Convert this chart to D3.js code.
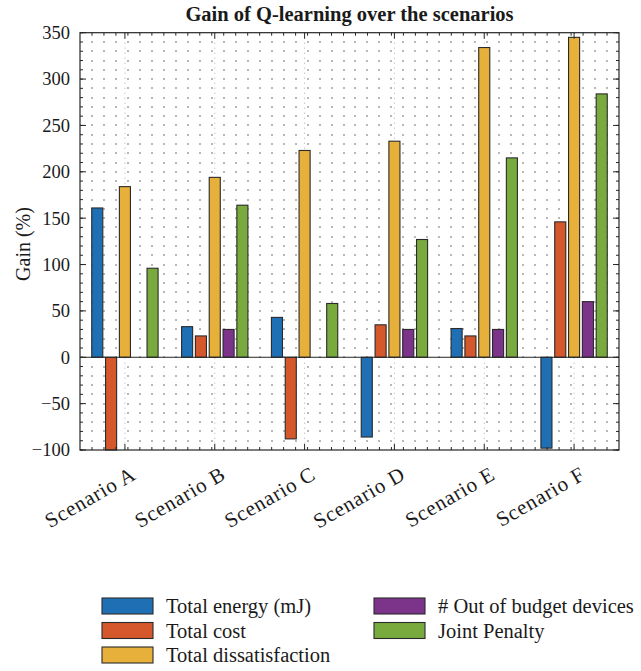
<!DOCTYPE html>
<html>
<head>
<meta charset="utf-8">
<script src="https://cdn.jsdelivr.net/npm/d3@7"></script>
<style>
  html, body { margin: 0; padding: 0; background: #fff; }
  svg { display: block; font-family: "Liberation Serif", "DejaVu Serif", serif; }
</style>
</head>
<body>
<svg id="chart" width="641" height="671"></svg>
<script>
// Gain (%) of Q-learning per scenario, one array per metric
const categories = ["Scenario A", "Scenario B", "Scenario C", "Scenario D", "Scenario E", "Scenario F"];
const totalEnergy = [161, 33, 43, -86, 31, -98];
const totalCost = [-100, 23, -88, 35, 23, 146];
const totalDissatisfaction = [184, 194, 223, 233, 334, 345];
const outOfBudgetDevices = [0, 30, 0, 30, 30, 60];
const jointPenalty = [96, 164, 58, 127, 215, 284];

const seriesNames = ["Total energy (mJ)", "Total cost", "Total dissatisfaction", "# Out of budget devices", "Joint Penalty"];
const seriesColors = ["#1f6fb4", "#d4582b", "#e7b03a", "#7c348a", "#79aa3e"];
const yTicks = [-100, -50, 0, 50, 100, 150, 200, 250, 300, 350];
const title = "Gain of Q-learning over the scenarios";
const yLabel = "Gain (%)";

const seriesValues = [totalEnergy, totalCost, totalDissatisfaction, outOfBudgetDevices, jointPenalty];
const rows = categories.map((c, i) => ({
  category: c,
  pos: i + 1,
  values: seriesNames.map((s, j) => ({ series: s, value: seriesValues[j][i], color: seriesColors[j] }))
}));

const svg = d3.select("#chart");
const plot = { left: 80, right: 619, top: 32.7, bottom: 450 };
const axisColor = "#262626";

const x = d3.scaleLinear().domain([0.5, categories.length + 0.5]).range([plot.left, plot.right]);
const y = d3.scaleLinear().domain([-100, 350]).range([plot.bottom, plot.top]);

// grouped bars: 5 bars sharing a group width of 5/6.5 category units
const groupWidth = 5 / 6.5;
const inner = d3.scaleBand()
  .domain(seriesNames)
  .range([x(1 - groupWidth / 2) - x(1), x(1 + groupWidth / 2) - x(1)])
  .paddingInner(0.2)
  .paddingOuter(0.1);

// minor grid: dotted lattice
const xMinor = d3.range(0, 46).map(k => 0.5 + k * (categories.length / 45));
const yMinor = d3.range(-100, 351, 10);
const gridG = svg.append("g");
const dots = [];
xMinor.slice(1, -1).forEach(xv => yMinor.slice(1, -1).forEach(yv => dots.push([xv, yv])));
gridG.selectAll("rect.dot").data(dots).join("rect")
  .attr("class", "dot")
  .attr("x", d => Math.round(x(d[0])) - 0.6)
  .attr("y", d => Math.round(y(d[1])) - 0.6)
  .attr("width", 1.2).attr("height", 1.2)
  .attr("fill", "#3a3a3a");

// major vertical grid at category positions
gridG.selectAll("line.vmaj").data(rows).join("line")
  .attr("class", "vmaj")
  .attr("x1", d => x(d.pos)).attr("x2", d => x(d.pos))
  .attr("y1", plot.top).attr("y2", plot.bottom)
  .attr("stroke", "#9a9a9a").attr("stroke-width", 0.8)
  .attr("stroke-dasharray", "1,4");

// bars
const groups = svg.append("g").selectAll("g").data(rows).join("g")
  .attr("transform", d => `translate(${x(d.pos)},0)`);
groups.selectAll("rect").data(d => d.values).join("rect")
  .attr("x", d => inner(d.series))
  .attr("width", inner.bandwidth())
  .attr("y", d => y(Math.max(0, d.value)))
  .attr("height", d => Math.abs(y(d.value) - y(0)))
  .attr("fill", d => d.color)
  .attr("stroke", "#2a2a2a")
  .attr("stroke-width", 1.1);

// zero baseline
svg.append("line")
  .attr("x1", plot.left).attr("x2", plot.right)
  .attr("y1", y(0)).attr("y2", y(0))
  .attr("stroke", axisColor).attr("stroke-width", 1);

// axes box
svg.append("rect")
  .attr("x", plot.left).attr("y", plot.top)
  .attr("width", plot.right - plot.left).attr("height", plot.bottom - plot.top)
  .attr("fill", "none").attr("stroke", axisColor).attr("stroke-width", 1.2);

// ticks (inward) on all four sides
const tickG = svg.append("g").attr("stroke", axisColor).attr("stroke-width", 1);
const xMajor = rows.map(d => d.pos);
function vTicks(vals, len) {
  vals.forEach(v => {
    tickG.append("line").attr("x1", x(v)).attr("x2", x(v)).attr("y1", plot.bottom).attr("y2", plot.bottom - len);
    tickG.append("line").attr("x1", x(v)).attr("x2", x(v)).attr("y1", plot.top).attr("y2", plot.top + len);
  });
}
function hTicks(vals, len) {
  vals.forEach(v => {
    tickG.append("line").attr("y1", y(v)).attr("y2", y(v)).attr("x1", plot.left).attr("x2", plot.left + len);
    tickG.append("line").attr("y1", y(v)).attr("y2", y(v)).attr("x1", plot.right).attr("x2", plot.right - len);
  });
}
vTicks(xMajor, 6);
vTicks(xMinor.slice(1, -1), 3);
hTicks(yTicks, 6);
hTicks(yMinor, 3);

// y tick labels
const yAxis = d3.axisLeft(y).tickValues(yTicks).tickSize(0).tickPadding(10).tickFormat(d3.format("d"));
const yAxisG = svg.append("g").attr("transform", `translate(${plot.left},0)`).call(yAxis);
yAxisG.select(".domain").remove();
yAxisG.selectAll("text")
  .attr("font-family", "Liberation Serif").attr("font-size", 18.5).attr("fill", "#1a1a1a");

// x tick labels, rotated
svg.append("g").selectAll("text").data(rows).join("text")
  .attr("transform", d => `translate(${x(d.pos) + 10},${plot.bottom + 24}) rotate(-30)`)
  .attr("text-anchor", "end")
  .attr("dominant-baseline", "middle")
  .attr("font-size", 21).attr("letter-spacing", 0.8).attr("fill", "#1a1a1a")
  .text(d => d.category);

// y label
svg.append("text")
  .attr("transform", `translate(30,244) rotate(-90)`)
  .attr("text-anchor", "middle")
  .attr("font-size", 20).attr("fill", "#1a1a1a")
  .text(yLabel);

// title
svg.append("text")
  .attr("x", (plot.left + plot.right) / 2).attr("y", 21)
  .attr("text-anchor", "middle")
  .attr("font-size", 20.5).attr("font-weight", "bold").attr("fill", "#1a1a1a")
  .text(title);

// legend: two columns
const legendItems = seriesNames.map((s, i) => ({
  name: s, color: seriesColors[i],
  col: i < 3 ? 0 : 1, row: i < 3 ? i : i - 3
}));
const legendCols = [102, 374];
const legendRows = [606, 630.5, 655];
const leg = svg.append("g").selectAll("g").data(legendItems).join("g")
  .attr("transform", d => `translate(${legendCols[d.col]},${legendRows[d.row]})`);
leg.append("rect")
  .attr("x", 0).attr("y", -8).attr("width", 51).attr("height", 16)
  .attr("fill", d => d.color).attr("stroke", "#2a2a2a").attr("stroke-width", 1.1);
leg.append("text")
  .attr("x", 64).attr("y", 0)
  .attr("dominant-baseline", "central")
  .attr("font-size", 20.5).attr("fill", "#1a1a1a")
  .text(d => d.name);
</script>
</body>
</html>
